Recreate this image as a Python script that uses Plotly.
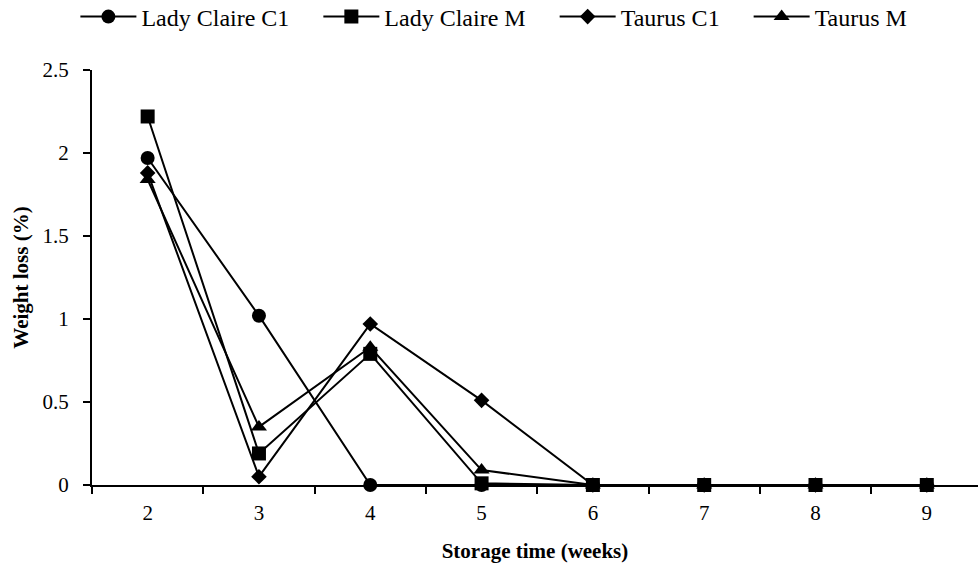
import plotly.graph_objects as go

weeks = ["2", "3", "4", "5", "6", "7", "8", "9"]
lady_claire_c1 = [1.97, 1.02, 0, 0, 0, 0, 0, 0]
lady_claire_m = [2.22, 0.19, 0.79, 0.01, 0, 0, 0, 0]
taurus_c1 = [1.88, 0.05, 0.97, 0.51, 0, 0, 0, 0]
taurus_m = [1.84, 0.35, 0.83, 0.09, 0, 0, 0, 0]

PAD = "\u00a0" * 4
series = [
    ("Lady Claire C1", lady_claire_c1, "circle", 14, PAD),
    ("Lady Claire M", lady_claire_m, "square", 14, PAD),
    ("Taurus C1", taurus_c1, "diamond", 12, PAD),
    ("Taurus M", taurus_m, "triangle-up", 14, ""),
]

FONT = "Liberation Serif, Times New Roman, serif"

fig = go.Figure()
for name, vals, sym, size, pad in series:
    fig.add_trace(go.Scatter(
        x=weeks, y=vals, name=name + pad, mode="lines+markers",
        line=dict(color="black", width=2),
        marker=dict(symbol=sym, size=size, color="black"),
        cliponaxis=False,
    ))

fig.update_layout(
    width=978, height=566,
    margin=dict(l=92, r=0, t=70, b=81, autoexpand=False),
    paper_bgcolor="white", plot_bgcolor="white",
    font=dict(family=FONT, color="black", size=21),
    showlegend=True,
    hovermode=False,
    legend=dict(
        orientation="h", xref="container", yref="container",
        x=0.505, xanchor="center", y=0.97, yanchor="middle",
        font=dict(family=FONT, size=24, color="black"),
        itemwidth=56, traceorder="normal",
        bgcolor="rgba(0,0,0,0)",
    ),
    xaxis=dict(
        type="category", range=[-0.5, 7.46], automargin=False,
        tickson="boundaries", ticks="outside", ticklen=7, tickwidth=2, tickcolor="black",
        showline=True, linewidth=2, linecolor="black", showgrid=False, zeroline=False,
        tickfont=dict(family=FONT, size=21, color="black"),
        ticklabelstandoff=8,
        title=dict(text="<b>Storage time (weeks)</b>", font=dict(family=FONT, size=21, color="black"), standoff=19),
    ),
    yaxis=dict(
        range=[0, 2.5], dtick=0.5, tick0=0, automargin=False,
        ticks="outside", ticklen=7, tickwidth=2, tickcolor="black",
        showline=True, linewidth=2, linecolor="black", showgrid=False, zeroline=False,
        tickfont=dict(family=FONT, size=21, color="black"),
        ticklabelstandoff=10,
        title=dict(text="<b>Weight loss (%)</b>", font=dict(family=FONT, size=21, color="black"), standoff=8),
    ),
)

fig.write_html("out.html", config={"displayModeBar": False},
               post_script="document.body.style.margin='0';")
